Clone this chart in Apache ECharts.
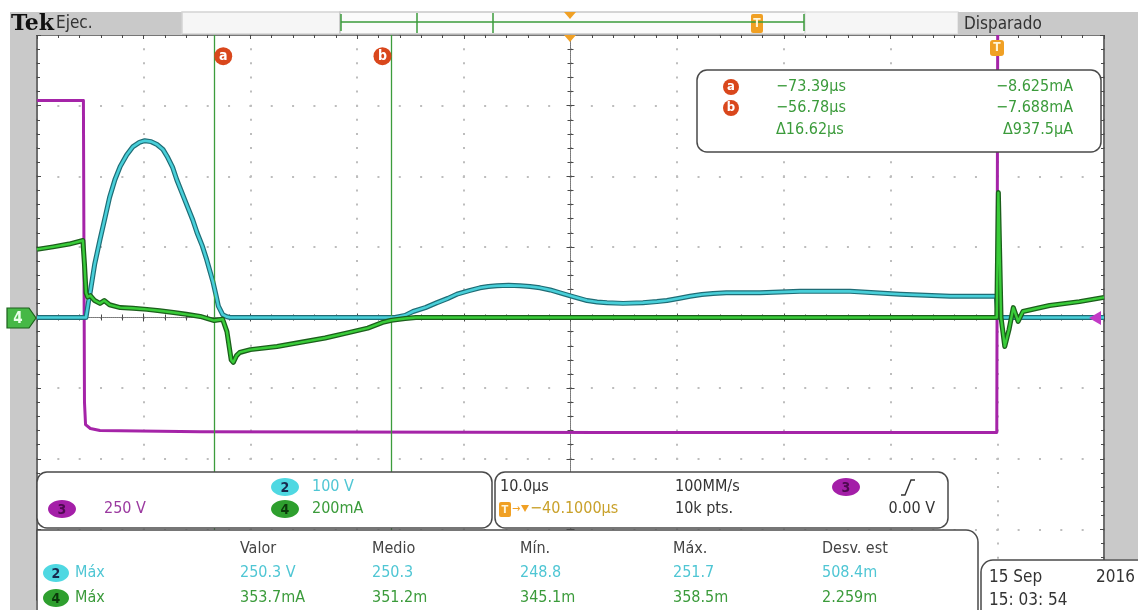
<!DOCTYPE html>
<html>
<head>
<meta charset="utf-8">
<title>Tek DPO capture</title>
<script src="https://cdn.jsdelivr.net/npm/echarts@6/dist/echarts.min.js"></script>
<style>
html, body { margin: 0; padding: 0; background: #ffffff; }
#scope { width: 1138px; height: 610px; }
</style>
</head>
<body>
<div id="scope"></div>
<script>
// ---- acquisition data -------------------------------------------------
// time axis: microseconds relative to the trigger, 10 us/div, 10 divisions
const timeMin = -90;
const timeMax = 10;
const timePerDiv = 10;

// vertical scales (per division), 8 divisions, ground at screen centre
const ch2PerDiv = 100;   // V
const ch3PerDiv = 250;   // V
const ch4PerDiv = 200;   // mA

// CH2 (V) : [time us, volts]
const ch2Trace = [
  [-90, 0], [-85.41, 0], [-85.2, 20], [-85.0, 37], [-84.6, 75], [-84.1, 110],
  [-83.6, 143], [-83.2, 170], [-82.7, 195], [-82.2, 214], [-81.6, 230], [-81.0, 242],
  [-80.4, 248], [-79.9, 250.3], [-79.3, 249], [-78.75, 245], [-78.2, 238], [-77.8, 228],
  [-77.3, 213], [-76.9, 195], [-76.4, 176], [-75.9, 157], [-75.4, 138], [-75.0, 120],
  [-74.5, 101], [-74.1, 82], [-73.8, 66], [-73.5, 50], [-73.2, 30], [-73.0, 16],
  [-72.6, 4], [-72.2, 1], [-71.9, 0], [-56.45, 0], [-55.5, 3], [-54.76, 8.5],
  [-53.6, 14], [-52.51, 21], [-51.5, 27], [-50.64, 33], [-49.5, 38], [-48.48, 42],
  [-47.7, 44], [-46.89, 45], [-45.8, 45.5], [-44.73, 45], [-43.8, 44], [-42.86, 42],
  [-41.9, 39], [-40.98, 35], [-39.86, 30], [-38.45, 24], [-37.5, 22], [-36.58, 21],
  [-35.08, 20], [-33.21, 21], [-31.9, 22.5], [-30.96, 24], [-29.9, 27], [-28.8, 30],
  [-27.7, 32.5], [-26.64, 34], [-25.4, 35], [-24.11, 35], [-22.24, 35], [-18.5, 37],
  [-13.8, 37], [-9.1, 33], [-4.4, 30], [-0.1, 30], [0.1, 0], [10, 0]
];

// CH3 (V) : [time us, volts]
const ch3Trace = [
  [-90, 768], [-85.65, 768], [-85.55, -300], [-85.45, -379], [-85.0, -393],
  [-84.1, -400], [-74.7, -404], [-37, -407], [-0.05, -407], [0.05, 1200], [10, 1200]
];

// CH4 (mA) : [time us, milliamps]
const ch4Trace = [
  [-90, 193], [-88.5, 200], [-87, 208], [-85.7, 218], [-85.55, 150], [-85.4, 70],
  [-85.25, 58], [-85.0, 62], [-84.6, 48], [-84.1, 40], [-83.7, 48], [-83.2, 36],
  [-82.2, 28], [-81.0, 26], [-79.7, 23], [-78.5, 19], [-77.2, 14], [-76.0, 9],
  [-74.7, 3], [-73.39, -8.625], [-72.6, -5], [-72.2, -40], [-71.8, -120], [-71.6, -127],
  [-71.3, -108], [-71.0, -99], [-70.0, -91], [-67.5, -82], [-65.4, -71], [-63.0, -58],
  [-60.7, -42], [-59.0, -30], [-57.6, -14], [-56.78, -7.688], [-55.5, -3], [-54.5, 0],
  [-0.05, 0], [0.1, 353.7], [0.35, 0], [0.7, -82], [0.85, -80], [1.1, -34],
  [1.5, 28], [1.95, -11], [2.4, 17], [4.9, 34], [7.7, 45], [10, 57]
];

// cursors (on CH4)
const cursorNames = ['a', 'b'];
const cursorTimes = [-73.39, -56.78];
const cursorCh4 = [-8.625, -7.688];
const cursorDelta = ['\u0394' + '16.62\u00b5s', '\u0394' + '937.5\u00b5A'];

// channel / timebase readouts
const scaleLabels = { ch2: '100 V', ch3: '250 V', ch4: '200mA' };
const timebase = { perDiv: '10.0\u00b5s', rate: '100MM/s', pos: '-40.1000\u00b5s', points: '10k pts.', level: '0.00 V' };

// measurement table
const measHeaders = ['Valor', 'Medio', 'M\u00edn.', 'M\u00e1x.', 'Desv. est'];
const ch2Meas = ['250.3 V', '250.3', '248.8', '251.7', '508.4m'];
const ch4Meas = ['353.7mA', '351.2m', '345.1m', '358.5m', '2.259m'];

const dateLines = ['15 Sep', '2016', '15: 03: 54'];

// ---- styling --------------------------------------------------------------
const FONT = '"DejaVu Sans Condensed", "DejaVu Sans", sans-serif';
const C2 = '#48cfd9', C2D = '#1f6d76', C2T = '#4fc6d4';
const C3 = '#a524a8', C3T = '#9b3aa0';
const C4 = '#39cc39', C4D = '#1b5f1b', C4T = '#3b9b3b';
const FRAME = '#4a4a4a';
const PANEL = '#c9c9c9';
const ORANGE = '#f0a024';

const el = echarts.init(document.getElementById('scope'), null, { renderer: 'canvas' });

function txt(x, y, s, color, size, align, weight, family) {
  return {
    type: 'text', z: 120,
    style: {
      x: x, y: y, text: s, fill: color,
      font: (weight || 'normal') + ' ' + (size || 15) + 'px ' + (family || FONT),
      textAlign: align || 'left', textVerticalAlign: 'middle'
    }
  };
}
function badge(cx, cy, label, fill, textColor, rx) {
  return [
    { type: 'ellipse', z: 118, shape: { cx: cx, cy: cy, rx: rx || 14, ry: 9 }, style: { fill: fill } },
    txt(cx, cy + 1, label, textColor, 14, 'center', 'bold')
  ];
}
function box(x, y, w, h, r, fill, stroke) {
  return { type: 'rect', z: 110, shape: { x: x, y: y, width: w, height: h, r: r },
           style: { fill: fill, stroke: stroke || 'none', lineWidth: 1.5 } };
}
function line(x1, y1, x2, y2, color, width) {
  return { type: 'line', z: 112, shape: { x1: x1, y1: y1, x2: x2, y2: y2 },
           style: { stroke: color, lineWidth: width || 1 } };
}

const gfx = [];
// title strip
gfx.push(box(10, 12, 172, 23, 0, PANEL));
gfx.push(txt(11, 24, 'Tek', '#111', 22, 'left', 'bold', '"DejaVu Serif", serif'));
gfx.push(txt(56, 24, 'Ejec.', '#333', 17));
gfx.push(box(182, 12, 158, 22, 0, '#f6f6f6', '#d4d4d4'));
gfx.push(box(340, 12, 465, 22, 0, '#fbfbfb', '#c8c8c8'));
gfx.push(line(341, 22, 804, 22, C4T, 1.5));
gfx.push(line(341, 14, 341, 31, C4T, 1.5));
gfx.push(line(417, 13, 417, 33, C4T, 1.5));
gfx.push(line(493, 13, 493, 33, C4T, 1.5));
gfx.push(line(804, 14, 804, 31, C4T, 1.5));
gfx.push({ type: 'polygon', z: 115, shape: { points: [[564, 12], [576, 12], [570, 19]] }, style: { fill: ORANGE } });
gfx.push(box(751, 14, 12, 19, 2, ORANGE));
gfx.push(txt(757, 24, 'T', '#fff5d8', 12, 'center', 'bold'));
gfx.push(box(805, 12, 153, 22, 0, '#f6f6f6', '#e2e2e2'));
gfx.push(box(958, 12, 180, 23, 0, PANEL));
gfx.push(txt(964, 25, 'Disparado', '#333', 17));
// side strips
gfx.push(box(10, 35, 26, 575, 0, PANEL));
gfx.push(box(1105, 35, 33, 524, 0, PANEL));
// expansion point and trigger position markers
gfx.push({ type: 'polygon', z: 115, shape: { points: [[564, 35], [576, 35], [570, 42]] }, style: { fill: ORANGE } });
gfx.push(box(990, 40, 14, 16, 3, ORANGE));
gfx.push(txt(997, 48, 'T', '#fff5d8', 12, 'center', 'bold'));
// ground marker for channel 4 and trigger level marker
gfx.push({ type: 'polygon', z: 116, shape: { points: [[7, 308], [29, 308], [36, 318], [29, 328], [7, 328]] },
           style: { fill: '#46b846', stroke: C4D, lineWidth: 1.2 } });
gfx.push(txt(18, 319, '4', '#eaffea', 15, 'center', 'bold'));
gfx.push({ type: 'polygon', z: 116, shape: { points: [[1089, 318], [1101, 311], [1101, 325]] }, style: { fill: '#c23ac6' } });

// cursor readout
gfx.push(box(697, 70, 404, 82, 10, '#ffffff', FRAME));
[87, 108].forEach(function (yy, i) {
  gfx.push({ type: 'circle', z: 118, shape: { cx: 731, cy: yy, r: 8 }, style: { fill: '#d9471c' } });
  gfx.push(txt(731, yy, cursorNames[i], '#fff', 13, 'center', 'bold'));
  gfx.push(txt(776, yy, '\u2212' + Math.abs(cursorTimes[i]).toFixed(2) + '\u00b5s', C4T, 16));
  gfx.push(txt(1073, yy, '\u2212' + Math.abs(cursorCh4[i]).toFixed(3) + 'mA', C4T, 16, 'right'));
});
gfx.push(txt(776, 130, cursorDelta[0], C4T, 16));
gfx.push(txt(1073, 130, cursorDelta[1], C4T, 16, 'right'));

// channel scale box
gfx.push(box(37, 472, 455, 56, 10, '#ffffff', FRAME));
badge(285, 487, '2', '#4fd8e2', '#18284e').forEach(function (g) { gfx.push(g); });
gfx.push(txt(312, 487, scaleLabels.ch2, C2T, 16));
badge(62, 509, '3', '#a41fa8', '#4e0a50').forEach(function (g) { gfx.push(g); });
gfx.push(txt(104, 509, scaleLabels.ch3, C3T, 16));
badge(285, 509, '4', '#2e9f2e', '#0b380b').forEach(function (g) { gfx.push(g); });
gfx.push(txt(312, 509, scaleLabels.ch4, C4T, 16));

// timebase box
gfx.push(box(495, 472, 453, 56, 10, '#ffffff', FRAME));
gfx.push(txt(500, 487, timebase.perDiv, '#333', 16));
gfx.push(txt(675, 487, timebase.rate, '#333', 16));
badge(846, 487, '3', '#a41fa8', '#4e0a50').forEach(function (g) { gfx.push(g); });
gfx.push({ type: 'polyline', z: 118, shape: { points: [[901, 495], [905, 495], [911, 480], [915, 480]] },
           style: { stroke: '#333', lineWidth: 1.4, fill: 'none' } });
gfx.push(box(499, 502, 12, 15, 2, ORANGE));
gfx.push(txt(505, 510, 'T', '#fff5d8', 11, 'center', 'bold'));
gfx.push(txt(512, 509, '\u2192', ORANGE, 11));
gfx.push({ type: 'polygon', z: 118, shape: { points: [[521, 505], [529, 505], [525, 512]] }, style: { fill: ORANGE } });
gfx.push(txt(530, 509, '\u2212' + timebase.pos.slice(1), '#c9a12a', 16));
gfx.push(txt(675, 509, timebase.points, '#333', 16));
gfx.push(txt(935, 509, timebase.level, '#333', 16, 'right'));

// measurement table
gfx.push(box(37, 530, 941, 90, [0, 12, 0, 0], '#ffffff', FRAME));
const colX = [240, 372, 520, 673, 822];
measHeaders.forEach(function (h, i) { gfx.push(txt(colX[i], 549, h, '#444', 16)); });
badge(56, 573, '2', '#4fd8e2', '#18284e', 13).forEach(function (g) { gfx.push(g); });
gfx.push(txt(75, 573, 'M\u00e1x', C2T, 16));
ch2Meas.forEach(function (v, i) { gfx.push(txt(colX[i], 573, v, C2T, 16)); });
badge(56, 598, '4', '#2e9f2e', '#0b380b', 13).forEach(function (g) { gfx.push(g); });
gfx.push(txt(75, 598, 'M\u00e1x', C4T, 16));
ch4Meas.forEach(function (v, i) { gfx.push(txt(colX[i], 598, v, C4T, 16)); });

// date box
gfx.push(box(981, 560, 170, 60, [12, 0, 0, 0], '#ffffff', FRAME));
gfx.push(txt(989, 578, dateLines[0], '#333', 17));
gfx.push(txt(1135, 578, dateLines[1], '#333', 17, 'right'));
gfx.push(txt(989, 601, dateLines[2], '#333', 17));

// ---- axes ---------------------------------------------------------------
const half = 4;
const gridDots = '#bdbdbd';
function frameX(pos, onZero, tickInside, showSplit) {
  return {
    type: 'value', min: timeMin, max: timeMax, interval: timePerDiv, position: pos,
    axisLine: { show: true, onZero: onZero, onZeroAxisIndex: 0,
                lineStyle: { color: onZero ? '#777' : FRAME, width: onZero ? 1 : 1.6, type: onZero ? 'dotted' : 'solid' } },
    axisTick: { show: true, inside: tickInside, length: 4, lineStyle: { color: FRAME } },
    minorTick: { show: true, splitNumber: 5, length: 3, lineStyle: { color: FRAME } },
    axisLabel: { show: false },
    splitLine: { show: showSplit, lineStyle: { color: gridDots, width: 2, type: [2, 12.125], dashOffset: 1 } },
    minorSplitLine: { show: false }
  };
}
function frameY(pos, offset, tickInside, showSplit, dotted) {
  return {
    type: 'value', min: -half * ch4PerDiv, max: half * ch4PerDiv, interval: ch4PerDiv,
    position: pos, offset: offset,
    axisLine: { show: true, onZero: false, lineStyle: { color: dotted ? '#777' : FRAME, width: dotted ? 1 : 1.6, type: dotted ? 'dotted' : 'solid' } },
    axisTick: { show: true, inside: tickInside, length: 4, lineStyle: { color: FRAME } },
    minorTick: { show: true, splitNumber: 5, length: 3, lineStyle: { color: FRAME } },
    axisLabel: { show: false },
    splitLine: { show: showSplit, lineStyle: { color: gridDots, width: 2, type: [2, 19.34], dashOffset: 1 } }
  };
}
function hiddenY(perDiv) {
  return { type: 'value', show: false, min: -half * perDiv, max: half * perDiv,
           axisLine: { onZero: false }, splitLine: { show: false } };
}

function trace(name, data, yIdx, color, width, z) {
  return { name: name, type: 'line', data: data, yAxisIndex: yIdx, showSymbol: false, symbol: 'none',
           clip: true, z: z, silent: true, lineStyle: { color: color, width: width, join: 'round' } };
}

const ch4Top = trace('CH4', ch4Trace, 0, C4, 2.4, 8);
ch4Top.markLine = {
  silent: true, symbol: ['none', 'none'], label: { show: false },
  lineStyle: { color: '#3c9c3c', width: 1.3, type: 'solid' },
  data: cursorTimes.map(function (t) { return { xAxis: t }; })
};
ch4Top.markPoint = {
  symbol: 'circle', symbolSize: 18,
  data: cursorTimes.map(function (t, i) {
    return { coord: [t, 3.7 * ch4PerDiv], symbolOffset: [i === 0 ? 9 : -9, 0],
             itemStyle: { color: '#d9471c' },
             label: { show: true, formatter: cursorNames[i], color: '#ffffff', fontSize: 14, fontWeight: 'bold', fontFamily: FONT } };
  })
};

el.setOption({
  animation: false,
  backgroundColor: '#ffffff',
  grid: { left: 37, right: 34, top: 35, bottom: 10, containLabel: false },
  xAxis: [
    frameX('top', false, true, true),
    frameX('bottom', true, true, false),
    frameX('bottom', true, false, false)
  ],
  yAxis: [
    frameY('left', 0, true, true, false),
    hiddenY(ch2PerDiv),
    hiddenY(ch3PerDiv),
    frameY('right', 0, true, false, false),
    frameY('left', -533.5, true, false, true),
    frameY('left', -533.5, false, false, true)
  ],
  series: [
    trace('CH3', ch3Trace, 2, C3, 3, 3),
    trace('CH2 edge', ch2Trace, 1, C2D, 5, 4),
    trace('CH2', ch2Trace, 1, C2, 2.6, 5),
    trace('CH4 edge', ch4Trace, 0, C4D, 5, 6),
    ch4Top
  ],
  graphic: { elements: gfx }
});
</script>
</body>
</html>
